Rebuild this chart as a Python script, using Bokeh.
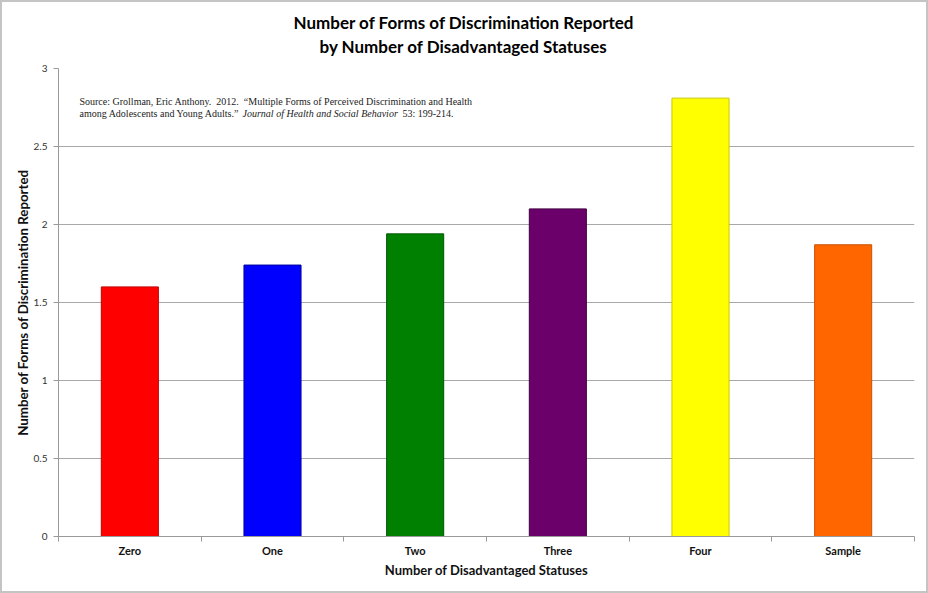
from bokeh.plotting import figure
from bokeh.models import ColumnDataSource, FixedTicker, Label, Range1d, Title
from bokeh.embed import file_html
from bokeh.resources import INLINE

categories = ["Zero", "One", "Two", "Three", "Four", "Sample"]
values = [1.60, 1.74, 1.94, 2.10, 2.81, 1.87]
fill_colors = ["#ff0000", "#0000ff", "#008000", "#6b006b", "#ffff00", "#ff6600"]
edge_colors = ["#c00000", "#0000a0", "#005500", "#400040", "#c8c800", "#c85000"]
y_ticks = [0, 0.5, 1, 1.5, 2, 2.5, 3]
y_tick_labels = ["0", "0.5", "1", "1.5", "2", "2.5", "3"]

title_lines = ["Number of Forms of Discrimination Reported", "by Number of Disadvantaged Statuses"]
title_offsets = [235, 261]
title_standoffs = [-14, 20]
title_valign = ["bottom", "top"]
x_title = "Number of Disadvantaged Statuses"
y_title = "Number of Forms of Discrimination Reported"
NB = "\u00a0"
src_line1 = ("Source: Grollman, Eric Anthony." + NB * 2 + "2012." + NB * 2 +
             "\u201cMultiple Forms of Perceived Discrimination and Health")
src_line2a = "among Adolescents and Young Adults.\u201d"
src_line2b = "Journal of Health and Social Behavior"
src_line2c = "53: 199-214."

positions = [i + 0.5 for i in range(len(categories))]
source = ColumnDataSource(dict(x=positions, top=values, fill=fill_colors, edge=edge_colors, cat=categories))

p = figure(width=928, height=593, x_range=Range1d(0, len(categories)), y_range=Range1d(0, 3),
           output_backend="svg", toolbar_location=None,
           min_border_left=56, min_border_right=16, min_border_top=66, min_border_bottom=59)
p.outline_line_color = None
p.styles = {"border": "2px solid #c4c4c4", "box-sizing": "border-box"}

p.vbar(x="x", top="top", bottom=0, width=0.4, fill_color="fill", line_color="edge",
       line_width=1, source=source)

# x axis
p.xaxis.ticker = FixedTicker(ticks=positions, minor_ticks=list(range(len(categories) + 1)))
p.xaxis.major_label_overrides = {x: c for x, c in zip(positions, categories)}
p.xaxis.major_tick_line_color = None
p.xaxis.major_tick_in = 0
p.xaxis.major_tick_out = 0
p.xaxis.minor_tick_line_color = "#999999"
p.xaxis.minor_tick_in = 0
p.xaxis.minor_tick_out = 5
p.xaxis.axis_line_color = "#999999"
p.xaxis.major_label_text_font = "Lato"
p.xaxis.major_label_text_font_style = "bold"
p.xaxis.major_label_text_font_size = "11px"
p.xaxis.major_label_text_color = "#111111"
p.xaxis.major_label_standoff = 2
p.xaxis.axis_label = x_title
p.xaxis.axis_label_text_font = "Lato"
p.xaxis.axis_label_text_font_style = "bold"
p.xaxis.axis_label_text_font_size = "13px"
p.xaxis.axis_label_text_color = "#111111"
p.xaxis.axis_label_standoff = 2

# y axis
p.yaxis.ticker = FixedTicker(ticks=y_ticks, minor_ticks=[])
p.yaxis.major_label_overrides = {t: l for t, l in zip(y_ticks, y_tick_labels)}
p.yaxis.major_tick_line_color = "#999999"
p.yaxis.major_tick_in = 0
p.yaxis.major_tick_out = 5
p.yaxis.axis_line_color = "#999999"
p.yaxis.major_label_text_font = "Lato"
p.yaxis.major_label_text_font_size = "10px"
p.yaxis.major_label_text_color = "#333333"
p.yaxis.major_label_standoff = 6
p.yaxis.axis_label = y_title
p.yaxis.axis_label_text_font = "Lato"
p.yaxis.axis_label_text_font_style = "bold"
p.yaxis.axis_label_text_font_size = "13.3px"
p.yaxis.axis_label_text_color = "#111111"
p.yaxis.axis_label_standoff = 0

p.xgrid.visible = False
p.ygrid.ticker = FixedTicker(ticks=y_ticks, minor_ticks=[])
p.ygrid.grid_line_color = "#a8a8a8"
p.ygrid.grid_line_width = 1

# two-line title (closest line added first)
for txt, off, so, va in reversed(list(zip(title_lines, title_offsets, title_standoffs, title_valign))):
    p.add_layout(Title(text=txt, align="left", offset=off, standoff=so, vertical_align=va,
                       text_font="Lato", text_font_style="bold", text_font_size="17px",
                       text_color="#000000"), "above")

# source note
common = dict(text_baseline="middle", text_font="Liberation Serif", text_font_size="10px",
              text_color="#222222")
p.add_layout(Label(x=0.147, y=2.788, text=src_line1, **common))
p.add_layout(Label(x=0.147, y=2.712, text=src_line2a, **common))
p.add_layout(Label(x=1.290, y=2.712, text=src_line2b, text_font_style="italic", **common))
p.add_layout(Label(x=2.411, y=2.712, text=src_line2c, **common))

open("out.html", "w").write(file_html(p, INLINE))
